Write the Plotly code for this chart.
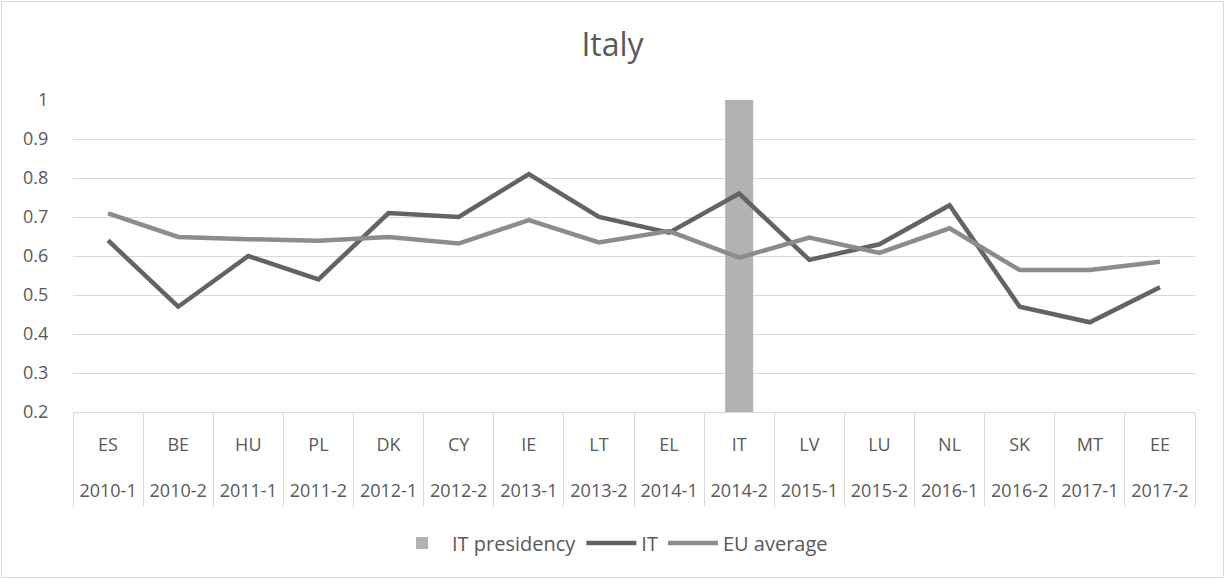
import plotly.graph_objects as go

# Council presidencies (country, semester)
countries = ["ES", "BE", "HU", "PL", "DK", "CY", "IE", "LT",
             "EL", "IT", "LV", "LU", "NL", "SK", "MT", "EE"]
semesters = ["2010-1", "2010-2", "2011-1", "2011-2", "2012-1", "2012-2",
             "2013-1", "2013-2", "2014-1", "2014-2", "2015-1", "2015-2",
             "2016-1", "2016-2", "2017-1", "2017-2"]

it_values = [0.64, 0.47, 0.60, 0.54, 0.71, 0.70, 0.81, 0.70,
             0.66, 0.76, 0.59, 0.63, 0.73, 0.47, 0.43, 0.52]
eu_average = [0.709, 0.649, 0.643, 0.639, 0.649, 0.632, 0.692, 0.635,
              0.664, 0.596, 0.647, 0.608, 0.671, 0.564, 0.564, 0.585]
it_presidency = [None, None, None, None, None, None, None, None,
                 None, 1, None, None, None, None, None, None]

y_ticks = [0.2, 0.3, 0.4, 0.5, 0.6, 0.7, 0.8, 0.9, 1]
y_tick_text = ["0.2", "0.3", "0.4", "0.5", "0.6", "0.7", "0.8", "0.9", "1"]

W, H = 1225, 579
ML, MR, MT, MB = 73, 30, 100, 167
TEXT = "#595959"
GRID = "#d9d9d9"
FONT = "Open Sans"

# two-row category labels: country on top, semester underneath
x_tick_text = [f"{c}<br><br>{s}" for c, s in zip(countries, semesters)]

fig = go.Figure()
fig.add_trace(go.Bar(
    x=countries, y=it_presidency, name="IT presidency",
    marker=dict(color="#b2b2b2", line=dict(width=0)), width=0.4,
))
fig.add_trace(go.Scatter(
    x=countries, y=it_values, name="IT", mode="lines",
    line=dict(color="#636363", width=4.5),
))
fig.add_trace(go.Scatter(
    x=countries, y=eu_average, name="EU average", mode="lines",
    line=dict(color="#8c8c8c", width=4.5),
))

# outer chart-area border, expressed in paper coordinates
pw, ph = W - ML - MR, H - MT - MB
def px_to_paper_x(px):
    return (px - ML) / pw
def px_to_paper_y(py):
    return (H - MB - py) / ph

fig.add_shape(
    type="rect", xref="paper", yref="paper", layer="below",
    x0=px_to_paper_x(1.5), x1=px_to_paper_x(W - 1.5),
    y0=px_to_paper_y(H - 1.5), y1=px_to_paper_y(1.5),
    line=dict(color=GRID, width=1), fillcolor="rgba(0,0,0,0)",
)

fig.update_layout(
    template="none",
    width=W, height=H,
    margin=dict(l=ML, r=MR, t=MT, b=MB, autoexpand=False),
    paper_bgcolor="white", plot_bgcolor="white",
    font=dict(family=FONT, color=TEXT, size=18),
    title=dict(text="Italy", x=0.5, xref="container", xanchor="center",
               y=1 - 45 / H, yanchor="middle",
               font=dict(family=FONT, size=32, color=TEXT)),
    showlegend=True,
    legend=dict(orientation="h", xref="container", yref="container",
                x=0.5, xanchor="center", y=1 - 543 / H, yanchor="middle",
                font=dict(family=FONT, size=20, color=TEXT),
                itemwidth=50, traceorder="normal"),
    xaxis=dict(
        type="category", automargin=False,
        categoryorder="array", categoryarray=countries,
        tickvals=countries, ticktext=x_tick_text,
        showline=True, linecolor=GRID, linewidth=1,
        showgrid=False, zeroline=False,
        ticks="outside", tickson="boundaries", ticklen=94,
        tickcolor=GRID, tickwidth=1, ticklabelstandoff=16,
        tickfont=dict(family=FONT, size=18, color=TEXT),
    ),
    yaxis=dict(
        range=[0.2, 1], tickvals=y_ticks, ticktext=y_tick_text,
        showgrid=True, gridcolor=GRID, gridwidth=1,
        zeroline=False, showline=False, automargin=False,
        ticks="outside", ticklen=20, tickcolor="rgba(0,0,0,0)",
        tickfont=dict(family=FONT, size=18, color=TEXT),
    ),
)

fig.write_html("out.html")
